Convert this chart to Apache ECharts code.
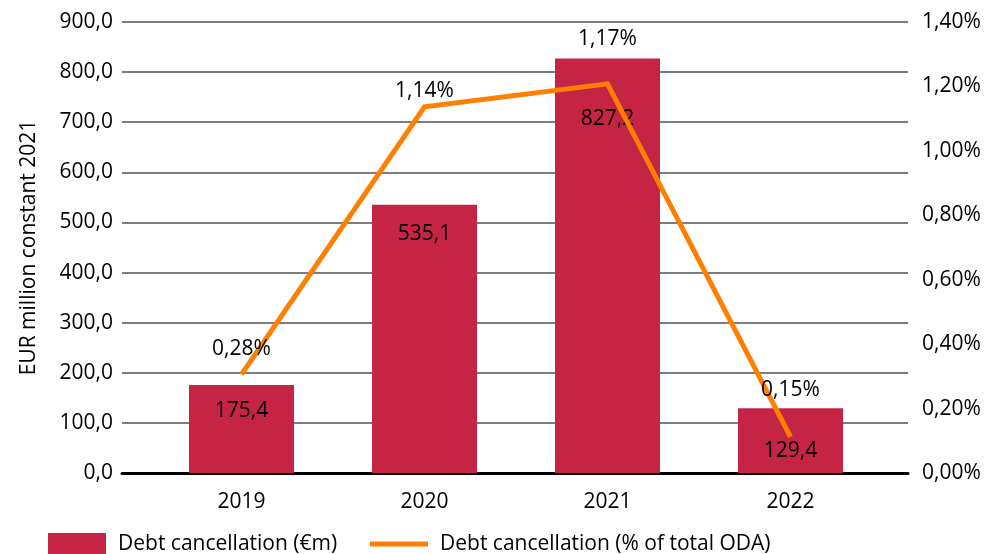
<!DOCTYPE html>
<html>
<head>
<meta charset="utf-8">
<script src="https://cdn.jsdelivr.net/npm/echarts@6/dist/echarts.min.js"></script>
<style>
  html, body { margin: 0; padding: 0; background: #fff; }
  #chart { width: 987px; height: 554px; }
</style>
</head>
<body>
<div id="chart"></div>
<script>
// data
var years = ['2019', '2020', '2021', '2022'];
var debtEur = [175.4, 535.1, 827.2, 129.4];
var debtPctPlotted = [0.306, 1.137, 1.208, 0.112];   // where the line points sit
var debtPctLabels = ['0,28%', '1,14%', '1,17%', '0,15%']; // printed labels
var leftTicks = [0, 900, 100];
var rightTicks = [0, 1.4, 0.2];

// label nudges (the source chart had labels moved by hand)
var barLabelDy = [10, 14, 45, 27];
var lineLabelDy = [-10, 0, -29, -31];

var FONT = 'Open Sans';
var FS = 21;
var BAR = '#C62445';
var LINE = '#FF7F00';

function comma(v, d) { return v.toFixed(d).replace('.', ','); }

var chart = echarts.init(document.getElementById('chart'));

var legendText = { fontFamily: FONT, fontSize: FS, color: '#000', padding: [0, 0, 0, 7], lineHeight: 22 };

var option = {
  animation: false,
  textStyle: { fontFamily: FONT, color: '#000' },
  grid: [
    { left: 122, right: 79, top: 22, bottom: 81 },
    { left: 150, right: 105, top: 22, bottom: 81 }
  ],
  legend: [
    {
      top: 533, left: 48, padding: 0,
      itemWidth: 58, itemHeight: 22,
      textStyle: legendText,
      data: [{ name: 'Debt cancellation (€m)', icon: 'rect' }]
    },
    {
      top: 533, left: 370, padding: 0,
      itemWidth: 58, itemHeight: 5,
      textStyle: legendText,
      data: [{ name: 'Debt cancellation (% of total ODA)', icon: 'rect' }]
    }
  ],
  xAxis: [
    {
      type: 'category', gridIndex: 0, data: years,
      axisLine: { show: true, lineStyle: { color: '#000', width: 3 } },
      axisTick: { show: false }, axisLabel: { show: false }
    },
    {
      type: 'category', gridIndex: 1, data: years,
      axisLine: { show: false }, axisTick: { show: false },
      axisLabel: { fontFamily: FONT, fontSize: FS, color: '#000', margin: 19 }
    }
  ],
  yAxis: [
    {
      type: 'value', gridIndex: 0, min: leftTicks[0], max: leftTicks[1], interval: leftTicks[2],
      name: 'EUR million constant 2021', nameLocation: 'middle', nameGap: 82,
      nameTextStyle: { fontFamily: FONT, fontSize: FS, color: '#000' },
      axisLine: { show: false }, axisTick: { show: false },
      axisLabel: { fontFamily: FONT, fontSize: FS, color: '#000', margin: 9,
        formatter: function (v) { return comma(v, 1); } },
      splitLine: { lineStyle: { color: '#505050', width: 1.5 } }
    },
    {
      type: 'value', gridIndex: 0, position: 'right',
      min: rightTicks[0], max: rightTicks[1], interval: rightTicks[2],
      axisLine: { show: false }, axisTick: { show: false },
      axisLabel: { fontFamily: FONT, fontSize: FS, color: '#000', margin: 14,
        formatter: function (v) { return comma(v, 2) + '%'; } },
      splitLine: { show: false }
    },
    {
      type: 'value', gridIndex: 1, min: leftTicks[0], max: leftTicks[1],
      show: false
    },
    {
      type: 'value', gridIndex: 1, min: rightTicks[0], max: rightTicks[1],
      show: false
    }
  ],
  series: [
    {
      name: 'Debt cancellation (€m)',
      type: 'bar', xAxisIndex: 1, yAxisIndex: 2,
      barWidth: 105,
      itemStyle: { color: BAR },
      data: debtEur.map(function (v, i) {
        return {
          value: v,
          label: {
            show: true, position: 'insideTop', distance: 5,
            offset: [0, barLabelDy[i]],
            fontFamily: FONT, fontSize: FS, color: '#000',
            formatter: function (p) { return comma(p.value, 1); }
          }
        };
      })
    },
    {
      name: 'Debt cancellation (% of total ODA)',
      type: 'line', xAxisIndex: 1, yAxisIndex: 3,
      symbol: 'circle', symbolSize: 0.1, showSymbol: true,
      lineStyle: { color: LINE, width: 5, join: 'miter' },
      itemStyle: { color: LINE },
      emphasis: { disabled: true },
      data: debtPctPlotted.map(function (v, i) {
        return {
          value: v,
          label: {
            show: true, position: 'top', distance: 5,
            offset: [0, lineLabelDy[i]],
            fontFamily: FONT, fontSize: FS, color: '#000',
            formatter: debtPctLabels[i]
          }
        };
      }),
      z: 5
    }
  ]
};

chart.setOption(option);
</script>
</body>
</html>
